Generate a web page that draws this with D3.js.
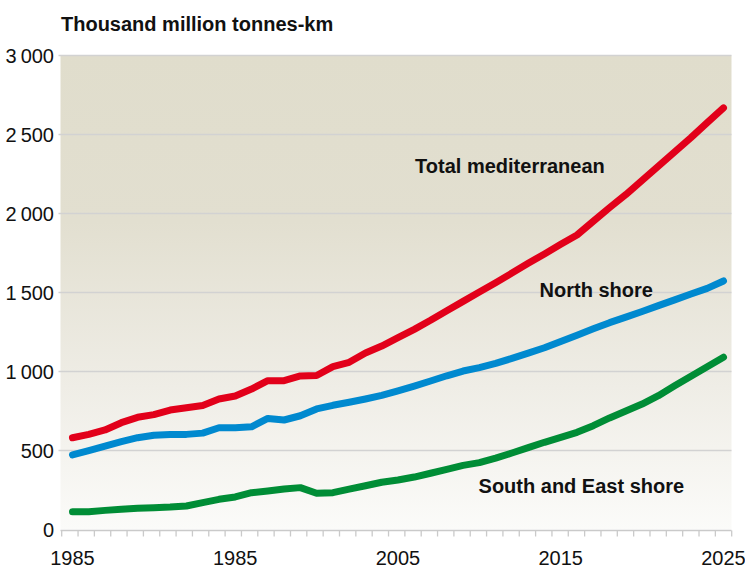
<!DOCTYPE html>
<html>
<head>
<meta charset="utf-8">
<script src="https://cdn.jsdelivr.net/npm/d3@7"></script>
<style>
  body { margin: 0; background: #fff; }
  svg { display: block; font-family: "Liberation Sans", Arial, sans-serif; }
</style>
</head>
<body>
<svg width="745" height="569"></svg>
<script>
// years on the x axis
var years = [1985, 1986, 1987, 1988, 1989, 1990, 1991, 1992, 1993, 1994,
             1995, 1996, 1997, 1998, 1999, 2000, 2001, 2002, 2003, 2004,
             2005, 2006, 2007, 2008, 2009, 2010, 2011, 2012, 2013, 2014,
             2015, 2016, 2017, 2018, 2019, 2020, 2021, 2022, 2023, 2024, 2025];

// thousand million tonnes-km
var totalMed = [581, 602, 630, 676, 710, 727, 756, 771, 785, 826,
                845, 889, 942, 942, 972, 975, 1031, 1058, 1117, 1161,
                1214, 1267, 1324, 1385, 1444, 1503, 1562, 1623, 1685, 1744,
                1805, 1864, 1951, 2037, 2120, 2210, 2300, 2390, 2480, 2575, 2668];
var northShore = [472, 499, 528, 556, 581, 597, 602, 602, 610, 644,
                  644, 650, 703, 693, 720, 763, 786, 805, 826, 849,
                  878, 908, 940, 973, 1003, 1025, 1051, 1083, 1116, 1150,
                  1190, 1230, 1270, 1309, 1344, 1380, 1417, 1453, 1490, 1526, 1573];
var southEastShore = [113, 113, 121, 128, 134, 138, 142, 149, 170, 191,
                      206, 233, 244, 256, 265, 229, 233, 256, 277, 299,
                      313, 332, 356, 381, 406, 423, 452, 484, 518, 552,
                      583, 615, 657, 706, 750, 794, 847, 910, 970, 1030, 1090];

var yTicks = [0, 500, 1000, 1500, 2000, 2500, 3000];
var xLabelYears = [1985, 1995, 2005, 2015, 2025];
var xLabelTexts = ["1985", "1985", "2005", "2015", "2025"];   // as printed in the original
var minorTickCount = 42;

var series = [
  { name: "Total mediterranean", values: totalMed, color: "#e2001a" },
  { name: "North shore", values: northShore, color: "#0089cf" },
  { name: "South and East shore", values: southEastShore, color: "#008d36" }
];

var svg = d3.select("svg"),
    width = +svg.attr("width"),
    height = +svg.attr("height");

var plotLeft = 60.5, plotRight = 731.5, plotTop = 55.5, plotBottom = 529.5;

var x = d3.scaleLinear().domain([1985, 2025]).range([72.5, 723.5]);
var y = d3.scaleLinear().domain([0, 3000]).range([plotBottom, plotTop]);
var tickX = d3.scaleLinear().domain([0, minorTickCount - 1]).range([61.7, 731.7]);

var fmt = d3.formatLocale({ decimal: ".", thousands: "\u2009", grouping: [3], currency: ["", ""] }).format(",d");

// background gradient
var defs = svg.append("defs");
var grad = defs.append("linearGradient")
    .attr("id", "bg")
    .attr("x1", 0).attr("y1", 0).attr("x2", 0).attr("y2", 1);
grad.append("stop").attr("offset", "0%").attr("stop-color", "#e0ddcc");
grad.append("stop").attr("offset", "35%").attr("stop-color", "#e2dfd0");
grad.append("stop").attr("offset", "70%").attr("stop-color", "#efede6");
grad.append("stop").attr("offset", "100%").attr("stop-color", "#fbfbf9");

svg.append("rect")
    .attr("x", plotLeft)
    .attr("y", plotTop)
    .attr("width", plotRight - plotLeft)
    .attr("height", plotBottom - plotTop)
    .attr("fill", "url(#bg)");

// gridlines + y labels
var grid = svg.append("g");
grid.selectAll("line")
    .data(yTicks.filter(function(d) { return d > 0; }))
    .enter().append("line")
    .attr("x1", 58.5).attr("x2", plotRight)
    .attr("y1", function(d) { return y(d); })
    .attr("y2", function(d) { return y(d); })
    .attr("stroke", "#d2d2d2")
    .attr("stroke-width", 1.5);

grid.selectAll("text")
    .data(yTicks)
    .enter().append("text")
    .attr("x", 54)
    .attr("y", function(d) { return y(d); })
    .attr("dy", "0.36em")
    .attr("text-anchor", "end")
    .attr("font-size", 20)
    .attr("fill", "#111")
    .text(function(d) { return fmt(d); });

// x axis line, minor ticks and labels
var xAxis = svg.append("g");
xAxis.append("line")
    .attr("x1", plotLeft).attr("x2", plotRight)
    .attr("y1", plotBottom + 1).attr("y2", plotBottom + 1)
    .attr("stroke", "#cacaca")
    .attr("stroke-width", 1.5);

xAxis.selectAll("line.tick")
    .data(d3.range(minorTickCount))
    .enter().append("line")
    .attr("class", "tick")
    .attr("x1", function(d) { return tickX(d); })
    .attr("x2", function(d) { return tickX(d); })
    .attr("y1", plotBottom + 1).attr("y2", plotBottom + 7)
    .attr("stroke", "#cacaca")
    .attr("stroke-width", 1.3);

xAxis.selectAll("text")
    .data(xLabelYears)
    .enter().append("text")
    .attr("x", function(d) { return x(d); })
    .attr("y", 565)
    .attr("text-anchor", "middle")
    .attr("font-size", 20)
    .attr("fill", "#111")
    .text(function(d, i) { return xLabelTexts[i]; });

// lines
var line = d3.line()
    .x(function(d, i) { return x(years[i]); })
    .y(function(d) { return y(d); });

svg.append("g")
    .attr("fill", "none")
    .attr("stroke-width", 7)
    .attr("stroke-linecap", "round")
    .attr("stroke-linejoin", "round")
    .selectAll("path")
    .data(series.slice().reverse())
    .enter().append("path")
    .attr("stroke", function(d) { return d.color; })
    .attr("d", function(d) { return line(d.values); });

// title
svg.append("text")
    .attr("x", 61)
    .attr("y", 31)
    .attr("font-size", 20)
    .attr("font-weight", "bold")
    .attr("fill", "#111")
    .text("Thousand million tonnes-km");

// series labels (placed in data space)
var labels = svg.append("g")
    .attr("font-size", 20)
    .attr("font-weight", "bold")
    .attr("fill", "#111");
labels.append("text").attr("x", x(2006.05)).attr("y", y(2254)).text(series[0].name);
labels.append("text").attr("x", x(2013.7)).attr("y", y(1473)).text(series[1].name);
labels.append("text").attr("x", x(2009.95)).attr("y", y(229)).text(series[2].name);
</script>
</body>
</html>
